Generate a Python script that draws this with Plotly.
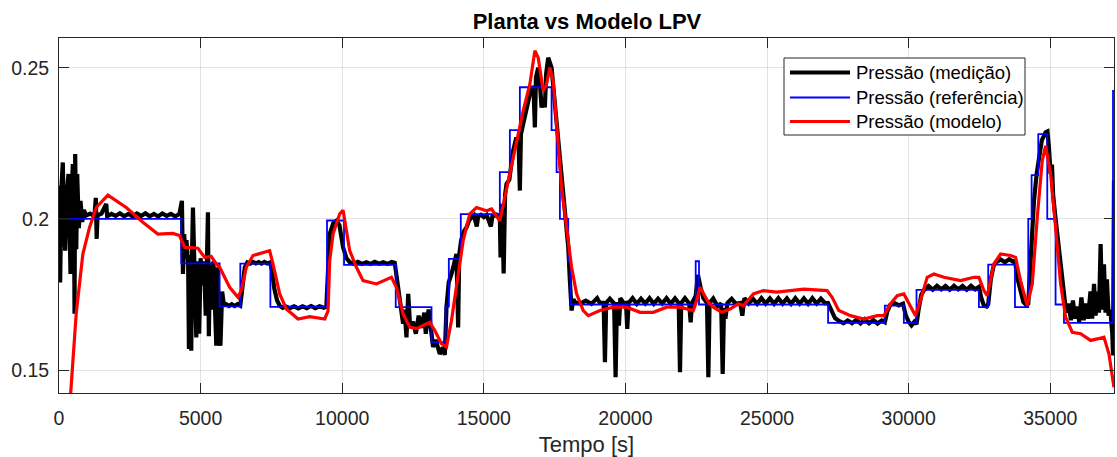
import plotly.graph_objects as go

# ---------------- data ----------------
ref_t = [0, 4318, 5671, 6402, 7463, 9463, 10064, 11890, 13152, 13646, 13764, 14187,
         15565, 15919, 16272, 17392, 17569, 17686, 17980, 18063, 22480, 22597, 27155,
         29159, 29830, 30277, 32480, 32809, 33753, 34223, 34341, 34576, 34894, 35187,
         35484, 37215, 37250]
ref_v = [0.2000, 0.1853, 0.1711, 0.1852, 0.1709, 0.1995, 0.1848, 0.1708, 0.1592, 0.1710,
         0.1868, 0.2016, 0.2155, 0.2294, 0.2436, 0.2294, 0.2155, 0.2000, 0.1860, 0.1717,
         0.1860, 0.1717, 0.1656, 0.1713, 0.1656, 0.1765, 0.1708, 0.1849, 0.1708, 0.2000,
         0.2145, 0.2281, 0.2000, 0.1717, 0.1656, 0.2424, 0.2424]

model_t = [380, 607, 842, 1078, 1314, 1725, 2374, 2961, 3491, 4021, 4257, 4435, 4670,
           4906, 5141, 5377, 5554, 5672, 6025, 6319, 6437, 6614, 6850, 7203, 7438, 7556,
           7792, 8027, 8440, 8852, 9382, 9500, 9558, 9676, 9912, 10030, 10147, 10265,
           10501, 10736, 11207, 11442, 11737, 11914, 12149, 12385, 12621, 13092, 13269,
           13505, 13681, 13858, 14093, 14270, 14505, 14741, 15094, 15271, 15565, 15742,
           15860, 16154, 16389, 16625, 16802, 16920, 17097, 17214, 17332, 17450, 17568,
           17745, 17922, 18099, 18275, 18511, 18688, 19100, 19570, 20042, 20513, 20984,
           21455, 21926, 22397, 22515, 22633, 22751, 22927, 23104, 23398, 23693, 23987,
           24164, 24517, 24870, 25341, 26297, 27120, 27297, 27533, 27945, 28417, 28888,
           29124, 29358, 29594, 29830, 30065, 30242, 30418, 30654, 30890, 31243, 31832,
           32303, 32480, 32656, 32774, 33009, 33245, 33598, 33775, 33951, 34186, 34364,
           34540, 34717, 34835, 35011, 35188, 35365, 35541, 35777, 36071, 36425, 36660,
           36896, 37072, 37249]
model_v = [0.1380, 0.1686, 0.1884, 0.1972, 0.2038, 0.2079, 0.2038, 0.1989, 0.1950, 0.1952,
           0.1945, 0.1906, 0.1905, 0.1903, 0.1873, 0.1876, 0.1851, 0.1840, 0.1774, 0.1741,
           0.1763, 0.1840, 0.1879, 0.1890, 0.1895, 0.1851, 0.1752, 0.1702, 0.1669, 0.1677,
           0.1669, 0.1696, 0.1862, 0.1950, 0.2017, 0.2029, 0.1960, 0.1895, 0.1840, 0.1796,
           0.1785, 0.1796, 0.1807, 0.1774, 0.1686, 0.1642, 0.1637, 0.1658, 0.1631, 0.1587,
           0.1576, 0.1664, 0.1807, 0.1928, 0.2017, 0.2038, 0.2027, 0.2033, 0.1994, 0.2071,
           0.2127, 0.2248, 0.2358, 0.2446, 0.2557, 0.2534, 0.2424, 0.2446, 0.2501, 0.2457,
           0.2325, 0.2105, 0.1972, 0.1840, 0.1752, 0.1697, 0.1680, 0.1697, 0.1708, 0.1708,
           0.1691, 0.1691, 0.1708, 0.1708, 0.1697, 0.1730, 0.1774, 0.1752, 0.1724, 0.1708,
           0.1691, 0.1702, 0.1719, 0.1713, 0.1752, 0.1763, 0.1758, 0.1768, 0.1763, 0.1741,
           0.1697, 0.1680, 0.1669, 0.1680, 0.1680, 0.1719, 0.1746, 0.1752, 0.1708, 0.1680,
           0.1730, 0.1807, 0.1818, 0.1807, 0.1796, 0.1807, 0.1807, 0.1763, 0.1746, 0.1851,
           0.1884, 0.1879, 0.1873, 0.1796, 0.1713, 0.1785, 0.2005, 0.2193, 0.2242, 0.2149,
           0.1972, 0.1785, 0.1675, 0.1625, 0.1620, 0.1598, 0.1603, 0.1609, 0.1553, 0.1443]

meas_t = [0, 40, 90, 134, 180, 219, 270, 336, 370, 406, 450, 488, 530, 548, 572, 610, 643,
          700, 760, 820, 880,
          950, 1100, 1250, 1300, 1330, 1360, 1500, 1668, 1700, 1850, 2000, 2150, 2300, 2450,
          2600, 2750, 2900, 3050, 3200, 3350, 3500, 3650, 3800, 3950, 4100, 4250,
          4340, 4376, 4420, 4460, 4500, 4560, 4588, 4630, 4670, 4700, 4729, 4780, 4847,
          4900, 4950, 5000, 5060, 5120, 5180, 5259, 5290, 5330, 5400, 5450, 5500, 5554,
          5600, 5650, 5700, 5760, 5820,
          5900, 6000, 6100, 6200, 6300, 6400,
          6480, 6560, 6650, 6750, 6850, 6950, 7050, 7150, 7250, 7350, 7450,
          7520, 7600, 7700, 7800, 7900, 8000, 8150, 8300, 8450, 8600, 8750, 8900, 9050,
          9200, 9350, 9440,
          9500, 9558, 9680, 9795, 9900, 10030, 10150, 10265, 10400, 10550, 10700, 10850,
          11000, 11150, 11300, 11450, 11600, 11750, 11855,
          11950, 12032, 12100, 12149, 12200, 12268, 12330, 12400, 12500, 12600, 12700,
          12800, 12900, 12950, 13050, 13100, 13209, 13300, 13445, 13550, 13622,
          13681, 13760, 13858, 13950, 14034, 14093, 14130, 14200, 14300, 14388, 14480,
          14565, 14650, 14750, 14800, 14900, 15000, 15100, 15250, 15300, 15450, 15565,
          15590, 15640, 15700, 15750, 15801, 15900, 16035, 16150, 16230, 16272, 16310,
          16389, 16508, 16625, 16700, 16760, 16802, 16840, 16920, 16980, 17038, 17100,
          17155, 17200, 17273, 17392, 17510, 17627, 17745, 17863, 17981, 18039, 18099,
          18160, 18216,
          18400, 18600, 18800, 19000, 19100, 19230, 19276, 19320, 19450, 19600, 19652,
          19700, 19770, 19820, 19950, 20020, 20064, 20110, 20250, 20400, 20550, 20700,
          20850, 21000, 21150, 21300, 21450, 21600, 21750, 21880, 21926, 21970, 22100,
          22250, 22303, 22350, 22480, 22560, 22650, 22750, 22880, 22927, 22970, 23100,
          23250, 23380, 23433, 23480, 23530, 23600, 23750, 23900, 24050, 24127, 24200,
          24350, 24500, 24650, 24800, 24950, 25100, 25250, 25400, 25550, 25700, 25850,
          26000, 26150, 26300, 26450, 26600, 26750, 26900, 27050, 27150,
          27250, 27400, 27550, 27700, 27850, 28000, 28150, 28300, 28450, 28600, 28750,
          28900, 29050, 29159,
          29250, 29350, 29500, 29650, 29800, 29900, 30000, 30100, 30200, 30277,
          30350, 30450, 30550, 30700, 30850, 31000, 31150, 31300, 31450, 31600, 31750,
          31900, 32050, 32200, 32350, 32480,
          32560, 32650, 32750, 32809, 32900, 33000, 33100, 33250, 33400, 33550, 33700,
          33753, 33850, 33950, 34050, 34150, 34223,
          34300, 34424, 34520, 34600, 34700, 34835, 34900, 34950, 35011, 35060, 35100,
          35188, 35306, 35400, 35484, 35560, 35650, 35730, 35800, 35880, 35950, 36020,
          36100, 36180, 36250, 36330, 36420, 36480, 36545, 36600, 36680, 36720, 36778,
          36830, 36896, 36950, 37000, 37060, 37120, 37190, 37215, 37235, 37250]
meas_v = [0.2110, 0.1790, 0.2110, 0.2187, 0.1960, 0.1895, 0.2080, 0.2149, 0.1990, 0.1818,
          0.2090, 0.2182, 0.2040, 0.1686, 0.2215, 0.1900, 0.2149, 0.1970, 0.2060, 0.1990,
          0.2030,
          0.2011, 0.2018, 0.2009, 0.2070, 0.1934, 0.2012, 0.2018, 0.2050, 0.2009, 0.2017,
          0.2010, 0.2019, 0.2009, 0.2017, 0.2008, 0.2018, 0.2010, 0.2019, 0.2009, 0.2017,
          0.2008, 0.2018, 0.2010, 0.2017, 0.2009, 0.2016,
          0.2060, 0.1818, 0.1950, 0.1880, 0.1930, 0.1850, 0.1570, 0.1880, 0.1564, 0.1900,
          0.2038, 0.1850, 0.1608, 0.1860, 0.1620, 0.1870, 0.1780, 0.1860, 0.1680, 0.2022,
          0.1612, 0.1850, 0.1700, 0.1860, 0.1660, 0.1581, 0.1840, 0.1600, 0.1581, 0.1760,
          0.1718,
          0.1718, 0.1712, 0.1718, 0.1712, 0.1718, 0.1713,
          0.1780, 0.1840, 0.1856, 0.1852, 0.1858, 0.1853, 0.1857, 0.1852, 0.1858, 0.1853,
          0.1856,
          0.1830, 0.1770, 0.1730, 0.1712, 0.1706, 0.1711, 0.1705, 0.1711, 0.1704, 0.1711,
          0.1705, 0.1712, 0.1705, 0.1711, 0.1706, 0.1710,
          0.1840, 0.1950, 0.1985, 0.1994, 0.1980, 0.1906, 0.1870, 0.1857, 0.1852, 0.1858,
          0.1851, 0.1857, 0.1851, 0.1858, 0.1852, 0.1857, 0.1851, 0.1858, 0.1855,
          0.1790, 0.1719, 0.1680, 0.1653, 0.1700, 0.1608, 0.1752, 0.1640, 0.1660, 0.1620,
          0.1680, 0.1640, 0.1690, 0.1620, 0.1700, 0.1650, 0.1576, 0.1600, 0.1553, 0.1575,
          0.1550,
          0.1708, 0.1790, 0.1818, 0.1850, 0.1884, 0.1641, 0.1880, 0.1930, 0.1960, 0.1972,
          0.1995, 0.2005, 0.2012, 0.1975, 0.2008, 0.2014, 0.2006, 0.2013, 0.1975, 0.2008,
          0.2014, 0.2005,
          0.1873, 0.2050, 0.1820, 0.2080, 0.2116, 0.2130, 0.2226, 0.2270, 0.2240, 0.2094,
          0.2280, 0.2314, 0.2369, 0.2413, 0.2440, 0.2420, 0.2303, 0.2468, 0.2501, 0.2450,
          0.2369, 0.2400, 0.2369, 0.2480, 0.2534, 0.2501, 0.2380, 0.2259, 0.2116, 0.2005,
          0.1906, 0.1796, 0.1697, 0.1735, 0.1724,
          0.1720, 0.1730, 0.1719, 0.1738, 0.1722, 0.1722, 0.1526, 0.1722, 0.1736, 0.1720,
          0.1476, 0.1725, 0.1647, 0.1738, 0.1720, 0.1722, 0.1636, 0.1722, 0.1738, 0.1719,
          0.1736, 0.1720, 0.1738, 0.1719, 0.1736, 0.1720, 0.1738, 0.1719, 0.1737, 0.1722,
          0.1493, 0.1722, 0.1738, 0.1720, 0.1658, 0.1722, 0.1745, 0.1815, 0.1775, 0.1738,
          0.1722, 0.1476, 0.1722, 0.1737, 0.1712, 0.1720, 0.1487, 0.1705, 0.1670, 0.1722,
          0.1736, 0.1719, 0.1722, 0.1680, 0.1738, 0.1720, 0.1736, 0.1719, 0.1738, 0.1720,
          0.1737, 0.1719, 0.1738, 0.1720, 0.1737, 0.1719, 0.1738, 0.1720, 0.1737, 0.1719,
          0.1738, 0.1720, 0.1736, 0.1721, 0.1722,
          0.1700, 0.1672, 0.1662, 0.1655, 0.1664, 0.1655, 0.1666, 0.1654, 0.1668, 0.1655,
          0.1665, 0.1654, 0.1664, 0.1658,
          0.1695, 0.1716, 0.1722, 0.1714, 0.1720, 0.1680, 0.1660, 0.1648, 0.1660, 0.1652,
          0.1700, 0.1750, 0.1765, 0.1778, 0.1766, 0.1779, 0.1767, 0.1778, 0.1766, 0.1779,
          0.1767, 0.1778, 0.1766, 0.1779, 0.1767, 0.1775,
          0.1740, 0.1715, 0.1710, 0.1718, 0.1800, 0.1845, 0.1858, 0.1866, 0.1857, 0.1867,
          0.1858, 0.1860, 0.1800, 0.1760, 0.1725, 0.1715, 0.1720,
          0.1850, 0.2060, 0.2150, 0.2209, 0.2260, 0.2287, 0.2290, 0.2240, 0.2149, 0.2180,
          0.2080, 0.2000, 0.1895, 0.1800, 0.1752, 0.1690, 0.1720, 0.1665, 0.1730, 0.1670,
          0.1710, 0.1660, 0.1740, 0.1665, 0.1720, 0.1670, 0.1760, 0.1670, 0.1785, 0.1680,
          0.1760, 0.1690, 0.1917, 0.1700, 0.1850, 0.1690, 0.1800, 0.1680, 0.1700, 0.1620,
          0.1548, 0.1800, 0.2127]

x_ticks = [0, 5000, 10000, 15000, 20000, 25000, 30000, 35000]
x_tick_labels = ["0", "5000", "10000", "15000", "20000", "25000", "30000", "35000"]
y_ticks = [0.15, 0.2, 0.25]
y_tick_labels = ["0.15", "0.2", "0.25"]

names = ["Pressão (medição)", "Pressão (referência)", "Pressão (modelo)"]
colors = ["#000000", "#0000ff", "#ff0000"]
widths = [4.2, 1.8, 3.2]

FONT = "Arial, Liberation Sans, Helvetica, sans-serif"
AX = "#262626"

fig = go.Figure()
fig.add_trace(go.Scatter(x=meas_t, y=meas_v, mode="lines", name=names[0],
                         line=dict(color=colors[0], width=widths[0])))
fig.add_trace(go.Scatter(x=ref_t, y=ref_v, mode="lines", name=names[1],
                         line=dict(color=colors[1], width=widths[1], shape="hv")))
fig.add_trace(go.Scatter(x=model_t, y=model_v, mode="lines", name=names[2],
                         line=dict(color=colors[2], width=widths[2])))

# plot-area geometry in pixels (for the hand-built MATLAB-style legend)
PL, PR, PT, PB = 59, 1114, 38, 393


def fx(px):
    return (px - PL) / (PR - PL)


def fy(py):
    return (PB - py) / (PB - PT)


shapes = [dict(type="rect", xref="paper", yref="paper", x0=fx(784), x1=fx(1025),
               y0=fy(135), y1=fy(58), line=dict(color=AX, width=1),
               fillcolor="white", layer="above")]
annotations = []
rows = [72.5, 97.5, 121.5]
for name, col, w, ry in zip(names, colors, widths, rows):
    shapes.append(dict(type="line", xref="paper", yref="paper", x0=fx(790), x1=fx(850),
                       y0=fy(ry), y1=fy(ry), line=dict(color=col, width=w),
                       layer="above"))
    annotations.append(dict(xref="paper", yref="paper", x=fx(854), y=fy(ry),
                            xanchor="left", yanchor="middle", text=name,
                            showarrow=False,
                            font=dict(family=FONT, size=18.5, color="#000000")))

fig.update_layout(
    width=1117, height=457,
    margin=dict(l=PL, r=1117 - PR, t=PT, b=457 - PB),
    plot_bgcolor="white", paper_bgcolor="white",
    font=dict(family=FONT, color=AX, size=19),
    title=dict(text="<b>Planta vs Modelo LPV</b>", x=fx(587), xref="paper",
               xanchor="center", y=1 - 21.5 / 457, yanchor="middle",
               font=dict(family=FONT, size=22, color="#000000")),
    showlegend=False,
    shapes=shapes,
    annotations=annotations,
)
fig.update_xaxes(range=[0, 37250], tickvals=x_ticks, ticktext=x_tick_labels,
                 ticks="inside", ticklen=10,
                 tickcolor=AX, showline=True, linecolor=AX, linewidth=1, mirror="ticks",
                 showgrid=True, gridcolor="rgba(38,38,38,0.13)", gridwidth=1,
                 zeroline=False, tickfont=dict(size=19.5), ticklabelstandoff=8,
                 title=dict(text="Tempo [s]", font=dict(size=22), standoff=8))
fig.update_yaxes(range=[0.1424, 0.2599], tickvals=y_ticks, ticktext=y_tick_labels,
                 ticks="inside", ticklen=10, tickcolor=AX, showline=True, linecolor=AX,
                 linewidth=1, mirror="ticks", showgrid=True,
                 gridcolor="rgba(38,38,38,0.13)", gridwidth=1, zeroline=False,
                 tickfont=dict(size=19.5), ticklabelstandoff=5)

fig.write_html("out.html")
